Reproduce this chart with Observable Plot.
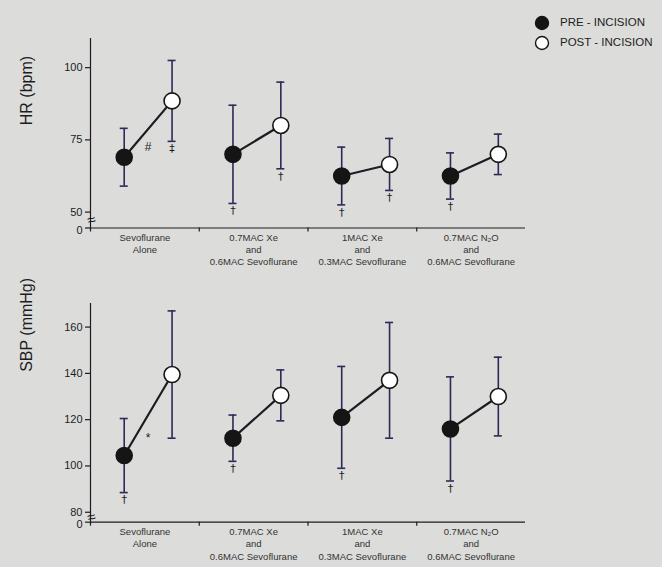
<!DOCTYPE html>
<html><head><meta charset="utf-8">
<script src="https://cdn.jsdelivr.net/npm/d3@7"></script>
<script src="https://cdn.jsdelivr.net/npm/@observablehq/plot@0.6"></script>
<style>
body{margin:0;background:#dcdcda;}
#wrap{position:relative;width:662px;height:567px;font-family:"Liberation Sans",Arial,sans-serif;overflow:hidden;}
#hr{position:absolute;left:0;top:0}
#sbp{position:absolute;left:0;top:290px}
.leg{position:absolute;font-size:11.5px;color:#222;line-height:14px;white-space:nowrap}
svg{background:transparent}
</style></head>
<body><div id="wrap"><div id="hr"></div><div id="sbp"></div>
<svg class="leg" style="left:533px;top:14px" width="18" height="40" id="legsym"></svg>
<div class="leg" style="left:560px;top:15px">PRE - INCISION</div>
<div class="leg" style="left:560px;top:35px">POST - INCISION</div>
</div>
<script>
// ---- data ----
const groups = ["Sevoflurane\nAlone", "0.7MAC Xe\nand\n0.6MAC Sevoflurane", "1MAC Xe\nand\n0.3MAC Sevoflurane", "0.7MAC N₂O\nand\n0.6MAC Sevoflurane"];
const phases = ["PRE - INCISION", "POST - INCISION"];

const hrPreMean  = [69, 70, 62.5, 62.5];
const hrPreSd    = [10, 17, 10, 8];
const hrPostMean = [88.5, 80, 66.5, 70];
const hrPostSd   = [14, 15, 9, 7];
const hrPreSig   = ["", "†", "†", "†"];
const hrPostSig  = ["‡", "†", "†", ""];
const hrBetween  = ["#", "", "", ""];
const hrBetweenY = [72.5, null, null, null];
const hrTicks    = [0, 50, 75, 100];

const sbpPreMean  = [104.5, 112, 121, 116];
const sbpPreSd    = [16, 10, 22, 22.5];
const sbpPostMean = [139.5, 130.5, 137, 130];
const sbpPostSd   = [27.5, 11, 25, 17];
const sbpPreSig   = ["†", "†", "†", "†"];
const sbpPostSig  = ["", "", "", ""];
const sbpBetween  = ["*", "", "", ""];
const sbpBetweenY = [112, null, null, null];
const sbpTicks    = [0, 80, 100, 120, 140, 160];

// ---- drawing ----
const ink = "#1c1c24";
const barColor = "#2a2a58";
const offs = [0.31, 0.75];

function panel(o) {
  const rows = [];
  groups.forEach((g, i) => {
    rows.push({g: i, p: 0, px: i + offs[0], mean: o.preMean[i], sd: o.preSd[i], sig: o.preSig[i]});
    rows.push({g: i, p: 1, px: i + offs[1], mean: o.postMean[i], sd: o.postSd[i], sig: o.postSig[i]});
  });
  const betweenRows = o.between.map((s, i) => ({px: i + (offs[0] + offs[1]) / 2, py: o.betweenY[i], s})).filter(d => d.s);
  const inner = o.height - o.marginTop - o.marginBottom;
  const pxu = inner / (o.high - o.low);
  const cap = 4 / 108.75;
  const nonZero = o.ticks.filter(t => t !== 0);
  return Plot.plot({
    width: 662, height: o.height,
    marginLeft: 90, marginRight: 137, marginTop: o.marginTop, marginBottom: o.marginBottom,
    style: {background: "transparent", fontFamily: "'Liberation Sans', Arial, sans-serif", color: ink, overflow: "visible"},
    x: {domain: [0, 4], label: null},
    y: {domain: [o.low, o.high], label: null},
    marks: [
      Plot.ruleX([0], {y1: o.low - 4 / pxu, y2: o.high, stroke: ink, strokeWidth: 1.2, clip: false}),
      Plot.ruleY([o.low], {x1: 0, x2: 4, stroke: ink, strokeWidth: 1.2}),
      Plot.ruleX([1, 2, 3], {y1: o.low, y2: o.low - 4 / pxu, stroke: ink, strokeWidth: 1.2}),
      Plot.text([0], {x: 0, y: (o.low + o.ticks[1]) / 2, text: () => "≈", fontSize: 15, fill: ink, rotate: -15, dx: 1}),
      Plot.axisY({ticks: nonZero, label: null, tickSize: 5, tickPadding: 3, fontSize: 11, stroke: ink, strokeWidth: 1.2}),
      Plot.axisY({ticks: [o.low], label: null, tickSize: 5, tickFormat: () => "", stroke: ink, strokeWidth: 1.2}),
      Plot.text(o.ticks.filter(t => t === 0), {x: 0, y: () => o.low, text: d => String(d), textAnchor: "end", dx: -8, dy: 2, fontSize: 11, fill: ink}),
      Plot.axisX({ticks: [0.5, 1.5, 2.5, 3.5], label: null, tickSize: 0, tickPadding: 4, fontSize: 9.5, lineHeight: 1.3, tickFormat: d => groups[Math.floor(d)], fill: "#333"}),
      Plot.text([o.label], {frameAnchor: "left", rotate: -90, dx: -64, dy: o.labelDy, fontSize: 16, fill: ink}),
      Plot.ruleX(rows, {x: "px", y1: d => d.mean - d.sd, y2: d => d.mean + d.sd, stroke: barColor, strokeWidth: 1.6}),
      Plot.ruleY(rows, {y: d => d.mean + d.sd, x1: d => d.px - cap, x2: d => d.px + cap, stroke: barColor, strokeWidth: 1.6}),
      Plot.ruleY(rows, {y: d => d.mean - d.sd, x1: d => d.px - cap, x2: d => d.px + cap, stroke: barColor, strokeWidth: 1.6}),
      Plot.line(rows, {x: "px", y: "mean", z: "g", stroke: ink, strokeWidth: 2.2}),
      Plot.dot(rows, {x: "px", y: "mean", r: 8, fill: d => d.p === 0 ? "#151515" : "#ffffff", stroke: "#151515", strokeWidth: 1.6}),
      Plot.text(rows.filter(d => d.sig), {x: "px", y: d => d.mean - d.sd, text: "sig", lineAnchor: "top", dy: 3, fontSize: 11, fill: ink, fontFamily: "DejaVu Sans"}),
      Plot.text(betweenRows, {x: "px", y: "py", text: "s", fontSize: 12, fill: ink})
    ]
  });
}

document.getElementById("hr").append(panel({
  preMean: hrPreMean, preSd: hrPreSd, postMean: hrPostMean, postSd: hrPostSd,
  preSig: hrPreSig, postSig: hrPostSig, between: hrBetween, betweenY: hrBetweenY,
  ticks: hrTicks, low: 44.5, high: 110.1, label: "HR (bpm)", labelDy: -8,
  height: 290, marginTop: 38, marginBottom: 62.5
}));
document.getElementById("sbp").append(panel({
  preMean: sbpPreMean, preSd: sbpPreSd, postMean: sbpPostMean, postSd: sbpPostSd,
  preSig: sbpPreSig, postSig: sbpPostSig, between: sbpBetween, betweenY: sbpBetweenY,
  ticks: sbpTicks, low: 75.7, high: 170.2, label: "SBP (mmHg)", labelDy: -41,
  height: 277, marginTop: 13, marginBottom: 45.3
}));

// legend symbols
const ls = d3.select("#legsym");
phases.forEach((p, i) => {
  ls.append("circle").attr("cx", 9).attr("cy", 9 + i * 20).attr("r", 6.5)
    .attr("fill", i === 0 ? "#151515" : "#ffffff").attr("stroke", "#151515").attr("stroke-width", 1.4);
});
</script>
</body></html>
